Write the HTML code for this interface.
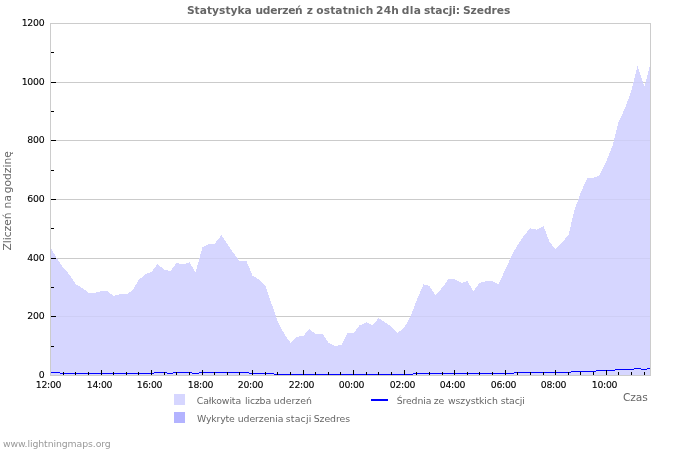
<!DOCTYPE html>
<html lang="pl"><head><meta charset="utf-8">
<title>Statystyka uderzeń z ostatnich 24h dla stacji: Szedres</title>
<style>
html,body{margin:0;padding:0;background:#fff;}
body{width:700px;height:450px;overflow:hidden;position:relative;}
svg{position:absolute;left:0;top:0;display:block;}
text{font-family:"DejaVu Sans","Liberation Sans",sans-serif;}
.t{font-weight:bold;font-size:10.67px;fill:#666;}
.yl{font-size:9.33px;fill:#000;text-anchor:end;letter-spacing:-0.25px;stroke:#000;stroke-width:0.1px;}
.xl{font-size:9.33px;fill:#000;letter-spacing:-0.3px;stroke:#000;stroke-width:0.1px;}
.lg{font-size:9.33px;fill:#666;}
.ax{font-size:10.67px;fill:#666;}
.ft{font-size:9.33px;fill:#999;}
</style></head><body>
<svg width="700" height="450" viewBox="0 0 700 450">
<rect x="0" y="0" width="700" height="450" fill="#fff"/>
<g shape-rendering="crispEdges">
<rect x="51" y="316" width="599" height="1" fill="#cbcbcb"/>
<rect x="51" y="258" width="599" height="1" fill="#cbcbcb"/>
<rect x="51" y="199" width="599" height="1" fill="#cbcbcb"/>
<rect x="51" y="140" width="599" height="1" fill="#cbcbcb"/>
<rect x="51" y="82" width="599" height="1" fill="#cbcbcb"/>
</g>
<defs><clipPath id="ac"><path d="M51,375 L51,247.1 L50.5,247.1 L56.5,258 L63.5,268.2 L69.5,274.6 L75.5,284 L82.5,288.2 L88.5,292.8 L94.5,292.8 L101.5,291 L107.5,291 L113.5,296 L119.5,294.3 L126.5,294.3 L132.5,290.4 L138.5,280.3 L145.5,273.9 L151.5,272 L157.5,264.1 L164.5,270 L170.5,271 L176.5,263 L183.5,264.2 L189.5,262.2 L195.5,272.2 L202.5,247.5 L208.5,244.3 L214.5,243.9 L221.5,235.1 L227.5,244.4 L233.5,253.1 L239.5,260.8 L246.5,261.1 L252.5,275.7 L258.5,279.3 L265.5,285.7 L271.5,303.5 L277.5,321.3 L284.5,334.3 L290.5,342.9 L296.5,337.1 L303.5,335.7 L309.5,329 L315.5,334 L322.5,334 L328.5,342.9 L334.5,346 L341.5,345 L347.5,333.1 L353.5,333.1 L359.5,325.4 L366.5,322.3 L372.5,325.4 L378.5,318.1 L385.5,322.7 L391.5,326.8 L397.5,333.1 L404.5,327.1 L410.5,316.6 L416.5,300.8 L423.5,284.3 L429.5,286 L435.5,295 L442.5,287.4 L448.5,279 L454.5,279 L461.5,282.9 L467.5,281.1 L473.5,291.3 L479.5,282.9 L486.5,281.1 L492.5,281.1 L498.5,284 L505.5,269.3 L511.5,255.8 L517.5,245.2 L524.5,234.7 L530.5,228.3 L536.5,229.7 L543.5,226.1 L549.5,242.1 L555.5,249 L562.5,241.9 L568.5,235 L574.5,210 L581.5,190.7 L587.5,178.1 L593.5,177.9 L599.5,175.4 L606.5,161 L612.5,146 L618.5,122.3 L625.5,107 L631.5,90.4 L637.5,66 L644.5,86.5 L650,65.5 L650,375 Z"/></clipPath></defs>
<path d="M51,375 L51,247.1 L50.5,247.1 L56.5,258 L63.5,268.2 L69.5,274.6 L75.5,284 L82.5,288.2 L88.5,292.8 L94.5,292.8 L101.5,291 L107.5,291 L113.5,296 L119.5,294.3 L126.5,294.3 L132.5,290.4 L138.5,280.3 L145.5,273.9 L151.5,272 L157.5,264.1 L164.5,270 L170.5,271 L176.5,263 L183.5,264.2 L189.5,262.2 L195.5,272.2 L202.5,247.5 L208.5,244.3 L214.5,243.9 L221.5,235.1 L227.5,244.4 L233.5,253.1 L239.5,260.8 L246.5,261.1 L252.5,275.7 L258.5,279.3 L265.5,285.7 L271.5,303.5 L277.5,321.3 L284.5,334.3 L290.5,342.9 L296.5,337.1 L303.5,335.7 L309.5,329 L315.5,334 L322.5,334 L328.5,342.9 L334.5,346 L341.5,345 L347.5,333.1 L353.5,333.1 L359.5,325.4 L366.5,322.3 L372.5,325.4 L378.5,318.1 L385.5,322.7 L391.5,326.8 L397.5,333.1 L404.5,327.1 L410.5,316.6 L416.5,300.8 L423.5,284.3 L429.5,286 L435.5,295 L442.5,287.4 L448.5,279 L454.5,279 L461.5,282.9 L467.5,281.1 L473.5,291.3 L479.5,282.9 L486.5,281.1 L492.5,281.1 L498.5,284 L505.5,269.3 L511.5,255.8 L517.5,245.2 L524.5,234.7 L530.5,228.3 L536.5,229.7 L543.5,226.1 L549.5,242.1 L555.5,249 L562.5,241.9 L568.5,235 L574.5,210 L581.5,190.7 L587.5,178.1 L593.5,177.9 L599.5,175.4 L606.5,161 L612.5,146 L618.5,122.3 L625.5,107 L631.5,90.4 L637.5,66 L644.5,86.5 L650,65.5 L650,375 Z" fill="#d6d6ff" shape-rendering="crispEdges"/>
<g shape-rendering="crispEdges" clip-path="url(#ac)">
<rect x="51" y="316" width="599" height="1" fill="#cecef5"/>
<rect x="51" y="258" width="599" height="1" fill="#cecef5"/>
<rect x="51" y="199" width="599" height="1" fill="#cecef5"/>
<rect x="51" y="140" width="599" height="1" fill="#cecef5"/>
<rect x="51" y="82" width="599" height="1" fill="#cecef5"/>
</g>
<g shape-rendering="crispEdges">
<rect x="50" y="23" width="601" height="1" fill="#cccccc"/>
<rect x="50" y="375" width="601" height="1" fill="#cccccc"/>
<rect x="50" y="23" width="1" height="353" fill="#cccccc"/>
<rect x="650" y="23" width="1" height="353" fill="#cccccc"/>
<rect x="51" y="372" width="9" height="1" fill="#0000ff"/>
<rect x="60" y="373" width="94" height="1" fill="#0000ff"/>
<rect x="154" y="372" width="13" height="1" fill="#0000ff"/>
<rect x="167" y="373" width="6" height="1" fill="#0000ff"/>
<rect x="173" y="372" width="19" height="1" fill="#0000ff"/>
<rect x="192" y="373" width="7" height="1" fill="#0000ff"/>
<rect x="199" y="372" width="50" height="1" fill="#0000ff"/>
<rect x="249" y="373" width="25" height="1" fill="#0000ff"/>
<rect x="274" y="374" width="139" height="1" fill="#0000ff"/>
<rect x="413" y="373" width="101" height="1" fill="#0000ff"/>
<rect x="514" y="372" width="57" height="1" fill="#0000ff"/>
<rect x="571" y="371" width="25" height="1" fill="#0000ff"/>
<rect x="596" y="370" width="19" height="1" fill="#0000ff"/>
<rect x="615" y="369" width="19" height="1" fill="#0000ff"/>
<rect x="634" y="368" width="7" height="1" fill="#0000ff"/>
<rect x="641" y="369" width="6" height="1" fill="#0000ff"/>
<rect x="647" y="368" width="3" height="1" fill="#0000ff"/>
<rect x="51" y="346" width="3" height="1" fill="#000"/>
<rect x="51" y="316" width="5" height="1" fill="#000"/>
<rect x="51" y="287" width="3" height="1" fill="#000"/>
<rect x="51" y="258" width="5" height="1" fill="#000"/>
<rect x="51" y="228" width="3" height="1" fill="#000"/>
<rect x="51" y="199" width="5" height="1" fill="#000"/>
<rect x="51" y="170" width="3" height="1" fill="#000"/>
<rect x="51" y="140" width="5" height="1" fill="#000"/>
<rect x="51" y="111" width="3" height="1" fill="#000"/>
<rect x="51" y="82" width="5" height="1" fill="#000"/>
<rect x="51" y="52" width="3" height="1" fill="#000"/>
<rect x="63" y="372" width="1" height="3" fill="#000"/>
<rect x="75" y="372" width="1" height="3" fill="#000"/>
<rect x="88" y="372" width="1" height="3" fill="#000"/>
<rect x="101" y="370" width="1" height="5" fill="#000"/>
<rect x="113" y="372" width="1" height="3" fill="#000"/>
<rect x="126" y="372" width="1" height="3" fill="#000"/>
<rect x="138" y="372" width="1" height="3" fill="#000"/>
<rect x="151" y="370" width="1" height="5" fill="#000"/>
<rect x="164" y="372" width="1" height="3" fill="#000"/>
<rect x="176" y="372" width="1" height="3" fill="#000"/>
<rect x="189" y="372" width="1" height="3" fill="#000"/>
<rect x="202" y="370" width="1" height="5" fill="#000"/>
<rect x="214" y="372" width="1" height="3" fill="#000"/>
<rect x="227" y="372" width="1" height="3" fill="#000"/>
<rect x="239" y="372" width="1" height="3" fill="#000"/>
<rect x="252" y="370" width="1" height="5" fill="#000"/>
<rect x="265" y="372" width="1" height="3" fill="#000"/>
<rect x="277" y="372" width="1" height="3" fill="#000"/>
<rect x="290" y="372" width="1" height="3" fill="#000"/>
<rect x="303" y="370" width="1" height="5" fill="#000"/>
<rect x="315" y="372" width="1" height="3" fill="#000"/>
<rect x="328" y="372" width="1" height="3" fill="#000"/>
<rect x="340" y="372" width="1" height="3" fill="#000"/>
<rect x="353" y="370" width="1" height="5" fill="#000"/>
<rect x="366" y="372" width="1" height="3" fill="#000"/>
<rect x="378" y="372" width="1" height="3" fill="#000"/>
<rect x="391" y="372" width="1" height="3" fill="#000"/>
<rect x="404" y="370" width="1" height="5" fill="#000"/>
<rect x="416" y="372" width="1" height="3" fill="#000"/>
<rect x="429" y="372" width="1" height="3" fill="#000"/>
<rect x="442" y="372" width="1" height="3" fill="#000"/>
<rect x="454" y="370" width="1" height="5" fill="#000"/>
<rect x="467" y="372" width="1" height="3" fill="#000"/>
<rect x="479" y="372" width="1" height="3" fill="#000"/>
<rect x="492" y="372" width="1" height="3" fill="#000"/>
<rect x="505" y="370" width="1" height="5" fill="#000"/>
<rect x="517" y="372" width="1" height="3" fill="#000"/>
<rect x="530" y="372" width="1" height="3" fill="#000"/>
<rect x="543" y="372" width="1" height="3" fill="#000"/>
<rect x="555" y="370" width="1" height="5" fill="#000"/>
<rect x="568" y="372" width="1" height="3" fill="#000"/>
<rect x="580" y="372" width="1" height="3" fill="#000"/>
<rect x="593" y="372" width="1" height="3" fill="#000"/>
<rect x="606" y="370" width="1" height="5" fill="#000"/>
<rect x="618" y="372" width="1" height="3" fill="#000"/>
<rect x="631" y="372" width="1" height="3" fill="#000"/>
<rect x="644" y="372" width="1" height="3" fill="#000"/>
<rect x="174" y="394" width="11" height="11" fill="#d6d6ff"/>
<rect x="174" y="412" width="11" height="11" fill="#b3b3ff"/>
<rect x="371" y="399" width="17" height="2" fill="#0000ff"/>
</g>
<text class="t" y="14"><tspan x="186.89" style="letter-spacing:0.03px">Statystyka</tspan> <tspan x="255.49" style="letter-spacing:-0.25px">uderzeń</tspan> <tspan x="306.82">z</tspan> <tspan x="316.33" style="letter-spacing:0.09px">ostatnich</tspan> <tspan x="376.03" style="letter-spacing:0.23px">24h</tspan> <tspan x="401.74" style="letter-spacing:0.38px">dla</tspan> <tspan x="424.04" style="letter-spacing:-0.07px">stacji:</tspan> <tspan x="462.97" style="letter-spacing:-0.04px">Szedres</tspan></text>
<text class="yl" x="44.4" y="378">0</text>
<text class="yl" x="44.4" y="319">200</text>
<text class="yl" x="44.4" y="261">400</text>
<text class="yl" x="44.4" y="202">600</text>
<text class="yl" x="44.4" y="143">800</text>
<text class="yl" x="44.4" y="85">1000</text>
<text class="yl" x="44.4" y="26">1200</text>
<text class="xl" x="35.8" y="388">12:00</text>
<text class="xl" x="86.8" y="388">14:00</text>
<text class="xl" x="136.8" y="388">16:00</text>
<text class="xl" x="187.8" y="388">18:00</text>
<text class="xl" x="237.8" y="388">20:00</text>
<text class="xl" x="288.8" y="388">22:00</text>
<text class="xl" x="338.8" y="388">00:00</text>
<text class="xl" x="389.8" y="388">02:00</text>
<text class="xl" x="439.8" y="388">04:00</text>
<text class="xl" x="490.8" y="388">06:00</text>
<text class="xl" x="540.8" y="388">08:00</text>
<text class="xl" x="591.8" y="388">10:00</text>
<text class="ax" y="401"><tspan x="622.89" style="letter-spacing:-0.03px">Czas</tspan></text>
<g transform="translate(11,250) rotate(-90)"><text class="ax" y="0"><tspan x="-0.51">Zliczeń</tspan> <tspan x="41.44" style="letter-spacing:0.26px">na</tspan> <tspan x="56.82">godzinę</tspan></text></g>
<text class="lg" y="404"><tspan x="196.75" style="letter-spacing:-0.11px">Całkowita</tspan> <tspan x="245.05" style="letter-spacing:-0.16px">liczba</tspan> <tspan x="273.76" style="letter-spacing:0.03px">uderzeń</tspan></text>
<text class="lg" y="422"><tspan x="197.11" style="letter-spacing:-0.19px">Wykryte</tspan> <tspan x="237.74" style="letter-spacing:-0.07px">uderzenia</tspan> <tspan x="285.78" style="letter-spacing:0.2px">stacji</tspan> <tspan x="313.74" style="letter-spacing:-0.07px">Szedres</tspan></text>
<text class="lg" y="404"><tspan x="396.71" style="letter-spacing:-0.13px">Średnia</tspan> <tspan x="433.75" style="letter-spacing:-0.12px">ze</tspan> <tspan x="448.03" style="letter-spacing:-0.07px">wszystkich</tspan> <tspan x="500.8" style="letter-spacing:-0.1px">stacji</tspan></text>
<text class="ft" y="447"><tspan x="2.9" style="letter-spacing:-0.1px">www.lightningmaps.org</tspan></text>
</svg>
</body></html>
